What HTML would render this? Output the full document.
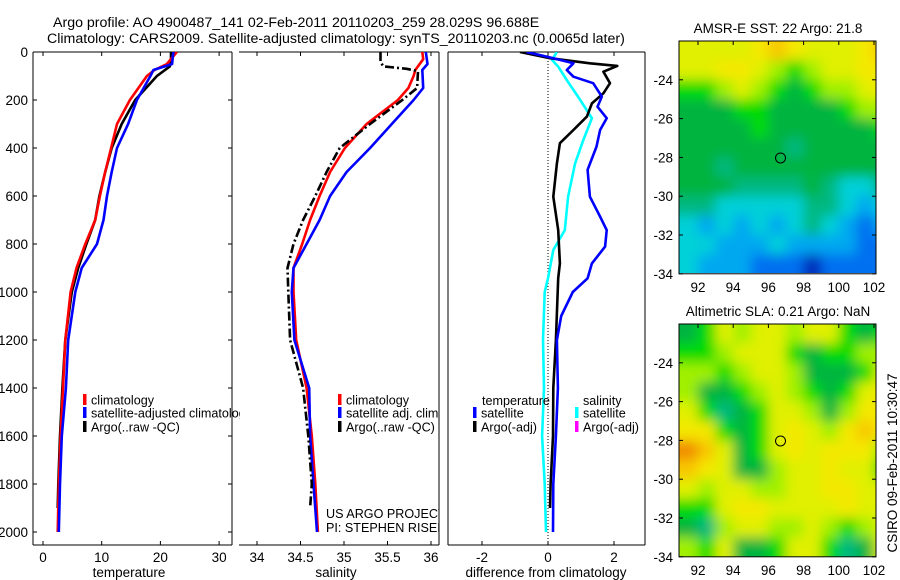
<!DOCTYPE html>
<html><head><meta charset="utf-8"><style>
html,body{margin:0;padding:0;background:#fff;}
svg{display:block;font-family:"Liberation Sans",sans-serif;}
text{font-size:13.5px;fill:#000;}
text.lg{font-size:12.6px;}
</style></head><body>
<svg id="fig" width="900" height="580" viewBox="0 0 900 580" xmlns="http://www.w3.org/2000/svg">
<defs>
<clipPath id="c1"><rect x="33" y="52" width="207" height="493"/></clipPath>
<clipPath id="c2"><rect x="239" y="52" width="200" height="493"/></clipPath>
<clipPath id="c3"><rect x="448" y="52" width="197" height="493"/></clipPath>
<clipPath id="m1c"><rect x="679" y="41" width="197" height="232"/></clipPath>
<clipPath id="m2c"><rect x="679" y="324" width="197" height="233"/></clipPath>
<filter id="bl" filterUnits="userSpaceOnUse" x="600" y="0" width="300" height="580"><feGaussianBlur stdDeviation="6"/></filter>
</defs>
<text x="53" y="27" style="font-size:14.2px">Argo profile: AO 4900487_141 02-Feb-2011 20110203_259 28.029S 96.688E</text>
<text x="47" y="43" style="font-size:14.2px">Climatology: CARS2009. Satellite-adjusted climatology: synTS_20110203.nc (0.0065d later)</text>
<g id="g1"></g>
<g id="g2"></g>
<g id="g3"></g>
<g id="gm1"></g>
<g id="gm2"></g>
<text transform="translate(897,463) rotate(-90)" text-anchor="middle">CSIRO 09-Feb-2011 10:30:47</text>
</svg>
<script>
// ---- data ----
const tRedD=[0,50,75,100,200,300,400,500,600,700,800,900,1000,1200,1400,1600,1800,2000];
const tRedV=[22.8,21.1,19,17.7,14.8,12.6,11.6,10.6,9.7,8.9,7.2,5.7,4.7,3.8,3.4,3.0,2.7,2.5];
const tBlueD=[0,50,75,100,200,300,400,500,600,700,800,900,1000,1200,1400,1600,1800,2000];
const tBlueV=[22.2,22,18.8,18.3,16,14.5,12.6,11.7,10.9,10.3,9.2,6.6,5.5,4.3,3.9,3.2,2.9,2.7];
const tBlackD=[0,40,60,100,200,300,400,500,600,700,800,900,1000,1200,1400,1600,1800,1900];
const tBlackV=[21.8,21.8,21.6,19.4,15.7,13.4,11.7,10.6,9.6,8.9,7.4,6,4.9,3.8,3.3,2.9,2.6,2.5];
const sRedD=[0,30,75,100,150,200,300,400,500,600,700,800,900,1000,1200,1400,1600,1800,2000];
const sRedV=[35.9,35.91,35.82,35.8,35.74,35.62,35.26,35.01,34.84,34.72,34.61,34.52,34.42,34.42,34.45,34.57,34.63,34.67,34.70];
const sBlueD=[0,50,75,150,200,300,400,500,600,700,800,900,1000,1200,1400,1600,1800,2000];
const sBlueV=[35.94,35.96,35.9,35.91,35.8,35.55,35.3,35.03,34.84,34.72,34.57,34.42,34.4,34.43,34.6,34.61,34.65,34.69];
const sBlackD=[0,40,60,70,80,150,200,300,400,500,600,700,800,900,1000,1200,1400,1600,1800,1900];
const sBlackV=[35.42,35.42,35.45,35.72,35.85,35.84,35.67,35.3,34.95,34.8,34.67,34.53,34.42,34.35,34.36,34.38,34.53,34.59,34.63,34.61];
const dTSatD=[0,19,47,75,103,130,186,228,276,325,394,491,603,686,742,811,881,943,1000,1100,1200,1400,1600,1800,2000];
const dTSatV=[-0.65,-0.04,0.77,0.57,0.77,1.37,1.63,1.5,1.78,1.58,1.47,1.2,1.27,1.58,1.78,1.73,1.33,1.2,0.75,0.4,0.27,0.3,0.24,0.16,0.15];
const dTArgoD=[0,26,47,58,82,130,172,214,269,325,380,464,603,742,881,943,1200,1400,1600,1800,1900];
const dTArgoV=[-0.85,0.06,1.27,2.1,1.68,1.88,1.68,1.33,1.18,0.77,0.36,0.27,0.16,0.31,0.36,0.31,0.24,0.16,0.15,0.08,0.06];
const dSSatD=[0,33,61,117,186,276,367,464,603,742,825,943,1000,1200,1400,1600,1800,2000];
const dSSatV=[0.27,0.12,0.31,0.57,0.91,1.33,1.07,0.82,0.61,0.51,0.16,0.0,-0.1,-0.15,-0.12,-0.18,-0.1,-0.06];
const depthTicks=[0,200,400,600,800,1000,1200,1400,1600,1800,2000];
const tTicks=[0,10,20,30];
const sTicks=[34,34.5,35,35.5,36];
const dTicks=[-2,0,2];
const latTicks=[-24,-26,-28,-30,-32,-34];
const lonTicks=[92,94,96,98,100,102];
const palette=['#0028b8','#0070f0','#00a8f0','#00d0d8','#00b880','#00b440','#00dc00','#a0f000','#e0f000','#f4e800','#f8c800','#f08c00'];
const map1Grid=[
[8,8,8,8,9,10,9,8,8,8,9,10],
[8,8,9,9,8,7,6,7,8,8,9,9],
[6,6,7,8,7,6,5,6,7,7,8,9],
[5,5,5,6,6,5,5,5,5,6,7,7],
[5,5,5,5,6,5,5,5,5,5,5,6],
[5,5,5,5,5,5,4,5,5,5,5,5],
[5,5,4,5,5,5,5,5,5,5,5,5],
[5,5,5,4,4,4,4,5,4,3,3,4],
[4,4,3,3,3,3,3,4,4,3,2,3],
[3,2,3,2,3,2,3,4,3,2,1,2],
[3,3,2,2,2,3,2,2,2,2,1,1],
[3,2,2,2,1,1,1,0,1,1,1,1]];
const map2Grid=[
[5,6,8,7,8,8,7,8,8,6,5,6],
[6,6,7,8,8,8,6,5,6,6,7,7],
[7,7,6,7,8,8,7,5,5,5,6,8],
[7,5,5,6,7,8,7,6,5,6,8,9],
[8,6,4,5,6,8,8,7,5,7,9,9],
[9,9,6,5,6,8,9,8,7,9,10,9],
[11,10,8,5,6,8,9,8,9,9,9,7],
[10,9,8,5,5,7,8,8,9,8,8,6],
[8,7,8,8,7,7,8,8,9,9,8,8],
[6,6,8,9,9,8,8,8,8,9,8,8],
[5,4,7,8,8,7,7,8,7,6,7,8],
[7,6,8,5,5,6,8,8,6,4,5,8]];
const argoLon=96.688, argoLat=-28.029;

// ---- helpers ----
const NS='http://www.w3.org/2000/svg';
function mk(parent,tag,attrs){const e=document.createElementNS(NS,tag);for(const k in attrs)e.setAttribute(k,attrs[k]);parent.appendChild(e);return e;}
const yD=d=>52+d*0.24;
const xT=t=>43+t*5.87;
const xS=s=>257+(s-34)*87;
const xDf=v=>548+v*33;
function line(g,ds,vs,fx,color,name,dash){
  const pts=ds.map((d,i)=>fx(vs[i]).toFixed(1)+','+yD(d).toFixed(1)).join(' ');
  const p=mk(g,'polyline',{points:pts,fill:'none',stroke:color,'stroke-width':2.6,'stroke-linejoin':'round'});
  if(dash)p.setAttribute('stroke-dasharray',dash);
  
  
}
function box(g,x0,x1,noLeft,noRight){
  mk(g,'line',{x1:x0,y1:52,x2:x1,y2:52,stroke:'#000'});
  mk(g,'line',{x1:x0,y1:545,x2:x1,y2:545,stroke:'#000'});
  if(!noLeft)mk(g,'line',{x1:x0,y1:52,x2:x0,y2:545,stroke:'#000'});
  if(!noRight)mk(g,'line',{x1:x1,y1:52,x2:x1,y2:545,stroke:'#000'});
}
function xticks(g,ticks,fx,name){
  ticks.forEach(t=>{const x=fx(t);
    mk(g,'line',{x1:x,y1:52,x2:x,y2:56,stroke:'#000'});
    mk(g,'line',{x1:x,y1:545,x2:x,y2:541,stroke:'#000'});
    const tx=mk(g,'text',{x:x,y:562,'text-anchor':'middle'});tx.textContent=String(t);
    
    
  });
}
function legend(g,x,y,color,label,name){
  mk(g,'rect',{x:x,y:y-6,width:3.5,height:11,fill:color});
  const t=mk(g,'text',{x:x+8,y:y+4.5,'class':'lg'});t.textContent=label;
  
  
}

// ---- panel 1 ----
const g1=document.getElementById('g1');
box(g1,33,232);
depthTicks.forEach(d=>{const y=yD(d);
  mk(g1,'line',{x1:33,y1:y,x2:37,y2:y,stroke:'#000'});
  mk(g1,'line',{x1:232,y1:y,x2:228,y2:y,stroke:'#000'});
  const t=mk(g1,'text',{x:28,y:y+5,'text-anchor':'end'});t.textContent=String(d);
  
  
});
xticks(g1,tTicks,xT,'temperature-tick-label');
const l1=mk(g1,'g',{'clip-path':'url(#c1)'});
line(l1,tBlackD,tBlackV,xT,'#000','temp-argo-line');
line(l1,tRedD,tRedV,xT,'#ff0000','temp-climatology-line');
line(l1,tBlueD,tBlueV,xT,'#0000ff','temp-satellite-line');
const lg1=mk(g1,'g',{'clip-path':'url(#c1)'});
legend(lg1,83,400,'#ff0000','climatology','legend-climatology');
legend(lg1,83,413,'#0000ff','satellite-adjusted climatology','legend-satellite-adjusted');
legend(lg1,83,427,'#000','Argo(..raw -QC)','legend-argo');
const xl1=mk(g1,'text',{x:129,y:577,'text-anchor':'middle'});xl1.textContent='temperature';



// ---- panel 2 ----
const g2=document.getElementById('g2');
box(g2,239,439,true);
xticks(g2,sTicks,xS,'salinity-tick-label');
const l2=mk(g2,'g',{'clip-path':'url(#c2)'});
line(l2,sRedD,sRedV,xS,'#ff0000','sal-climatology-line');
line(l2,sBlueD,sBlueV,xS,'#0000ff','sal-satellite-line');
line(l2,sBlackD,sBlackV,xS,'#000','sal-argo-line','9,3,2,3');
const lg2=mk(g2,'g',{'clip-path':'url(#c2)'});
legend(lg2,338,400,'#ff0000','climatology','legend-climatology');
legend(lg2,338,413,'#0000ff','satellite adj. clim.','legend-satellite-adj');
legend(lg2,338,427,'#000','Argo(..raw -QC)','legend-argo');
const a1=mk(lg2,'text',{x:326,y:518,'class':'lg'});a1.textContent='US ARGO PROJECT';


const a2=mk(lg2,'text',{x:326,y:532,'class':'lg'});a2.textContent='PI: STEPHEN RISER';


const xl2=mk(g2,'text',{x:336,y:577,'text-anchor':'middle'});xl2.textContent='salinity';



// ---- panel 3 ----
const g3=document.getElementById('g3');
box(g3,448,645);
xticks(g3,dTicks,xDf,'difference-tick-label');
mk(g3,'line',{x1:xDf(0),y1:52,x2:xDf(0),y2:545,stroke:'#000','stroke-width':1,'stroke-dasharray':'1,2'});
const l3=mk(g3,'g',{'clip-path':'url(#c3)'});
line(l3,dSSatD,dSSatV,xDf,'#00ffff','diff-sal-satellite-line');
line(l3,dTArgoD,dTArgoV,xDf,'#000','diff-temp-argo-line');
line(l3,dTSatD,dTSatV,xDf,'#0000ff','diff-temp-satellite-line');
const t3=mk(g3,'text',{x:482,y:405,'class':'lg'});t3.textContent='temperature';


const s3=mk(g3,'text',{x:583,y:405,'class':'lg'});s3.textContent='salinity';


legend(g3,473,413,'#0000ff','satellite','legend-temp-satellite');
legend(g3,473,427,'#000','Argo(-adj)','legend-temp-argo');
legend(g3,575,413,'#00ffff','satellite','legend-sal-satellite');
legend(g3,575,427,'#ff00ff','Argo(-adj)','legend-sal-argo');
const xl3=mk(g3,'text',{x:546,y:577,'text-anchor':'middle'});xl3.textContent='difference from climatology';



// ---- maps ----
function drawMap(id,grid,top,clip,title,name){
  const g=document.getElementById(id);
  const xL=lon=>698+(lon-92)*17.6;
  const yL=lat=>top+(-22-lat)*19.4;
  const cg=mk(g,'g',{'clip-path':'url(#'+clip+')'});
  const hg=mk(cg,'g',{filter:'url(#bl)'});
  grid.forEach((row,r)=>row.forEach((v,c)=>{
    const x0=xL(91+c),y0=yL(-22-r);
    const cell=mk(hg,'rect',{x:x0-(c==0?20:0),y:y0-(r==0?20:0),width:xL(92+c)-x0+(c==0?20:0)+(c==11?20:0)+0.5,height:yL(-23-r)-y0+(r==0?20:0)+(r==11?20:0)+0.5,fill:palette[v]});
    
    
  }));
  mk(g,'rect',{x:679,y:top,width:197,height:yL(-34)-top,fill:'none',stroke:'#000'});
  latTicks.forEach(lat=>{const y=yL(lat);
    mk(g,'line',{x1:679,y1:y,x2:683,y2:y,stroke:'#000'});
    mk(g,'line',{x1:876,y1:y,x2:872,y2:y,stroke:'#000'});
    const t=mk(g,'text',{x:673,y:y+5,'text-anchor':'end'});t.textContent=String(lat);
    
    
  });
  lonTicks.forEach(lon=>{const x=xL(lon);
    mk(g,'line',{x1:x,y1:top,x2:x,y2:top+4,stroke:'#000'});
    const t=mk(g,'text',{x:x,y:yL(-34)+18,'text-anchor':'middle'});t.textContent=String(lon);
    
    
  });
  const c=mk(g,'ellipse',{cx:xL(argoLon),cy:yL(argoLat),rx:5,ry:5,fill:'none',stroke:'#000','stroke-width':1});
  
  
  const tt=mk(g,'text',{x:778,y:top-8,'text-anchor':'middle'});tt.textContent=title;
  
  
}
drawMap('gm1',map1Grid,41,'m1c','AMSR-E SST: 22 Argo: 21.8','sst-map-title');
drawMap('gm2',map2Grid,324,'m2c','Altimetric SLA: 0.21 Argo: NaN','sla-map-title');
</script>
</body></html>
